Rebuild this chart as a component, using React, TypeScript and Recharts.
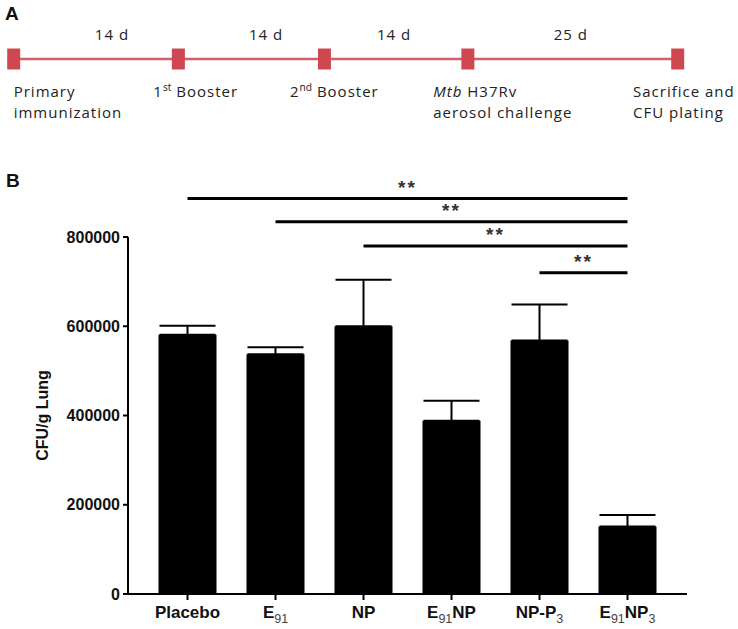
import React from 'react';
import {
  BarChart,
  Bar,
  XAxis,
  YAxis,
  ErrorBar,
  ReferenceLine,
  LineChart,
  Line,
  ReferenceDot,
} from 'recharts';

// ---------- Panel B data ----------
const groups = ['Placebo', 'E91', 'NP', 'E91NP', 'NP-P3', 'E91NP3'];
const cfuMean = [581000, 537000, 600000, 388000, 568000, 151000];
const cfuSem = [20000, 16000, 104000, 45000, 81000, 26000];
const yTicks = [0, 200000, 400000, 600000, 800000];

// significance brackets: from group -> to group, at level, with mark
const sigFrom = ['Placebo', 'E91', 'NP', 'NP-P3'];
const sigTo = ['E91NP3', 'E91NP3', 'E91NP3', 'E91NP3'];
const sigLevel = [886000, 834000, 780000, 720000];
const sigMark = ['**', '**', '**', '**'];

// ---------- Panel A data (schematic timeline, 0–100 scale) ----------
const eventLines = [
  ['Primary', 'immunization'],
  ['1^st Booster'],
  ['2^nd Booster'],
  ['_Mtb_ H37Rv', 'aerosol challenge'],
  ['Sacrifice and', 'CFU plating'],
];
const eventPos = [0, 24.8, 46.8, 68.4, 100];
const intervalLabels = ['14 d', '14 d', '14 d', '25 d'];
const intervalPos = [14.8, 38.0, 57.3, 83.9];

// ---------- layout / style ----------
const EVENT_LABEL_DX = [0, -25, -34.5, -34.7, -44.7];
const SANS_A = '"Open Sans", "Liberation Sans", sans-serif';
const SANS_B = 'Arial, "Liberation Sans", sans-serif';
const RED_LINE = '#d65d66';
const RED_MARK = '#cf4751';

const barData = groups.map((g, i) => ({
  group: g,
  mean: cfuMean[i],
  err: [0, cfuSem[i]],
}));

const timelineData = eventPos.map((p, i) => ({ pos: p, v: 0.5, idx: i }));

// render a line of text with ^sup and _italic_ markup
function renderRich(line: string, baseSize: number) {
  const out: React.ReactNode[] = [];
  const re = /(\^[a-z]+)|(_[^_]+_)/g;
  let last = 0;
  let m: RegExpExecArray | null;
  let k = 0;
  let pendingDown = false;
  const pushPlain = (t: string) => {
    if (!t) return;
    if (pendingDown) {
      out.push(
        <tspan key={k++} dy={6}>
          {t}
        </tspan>
      );
      pendingDown = false;
    } else {
      out.push(<tspan key={k++}>{t}</tspan>);
    }
  };
  while ((m = re.exec(line)) !== null) {
    pushPlain(line.slice(last, m.index));
    if (m[1]) {
      out.push(
        <tspan key={k++} fontSize={baseSize * 0.68} dy={-6} letterSpacing={0}>
          {m[1].slice(1)}
        </tspan>
      );
      pendingDown = true;
    } else if (m[2]) {
      out.push(
        <tspan key={k++} fontStyle="italic">
          {m[2].slice(1, -1)}
        </tspan>
      );
    }
    last = m.index + m[0].length;
  }
  pushPlain(line.slice(last));
  return out;
}

const EventDot = (props: any) => {
  const { cx, cy, payload } = props;
  const i = payload.idx;
  const lines = eventLines[i];
  return (
    <g key={`ev-${i}`}>
      <rect x={cx - 6.5} y={cy - 10.5} width={13} height={21} fill={RED_MARK} />
      {lines.map((ln, j) => (
        <text
          key={j}
          x={cx + EVENT_LABEL_DX[i]}
          y={cy + 38 + j * 21}
          fontFamily={SANS_A}
          fontSize={15}
          letterSpacing={1}
          fill="#222"
        >
          {renderRich(ln, 15)}
        </text>
      ))}
    </g>
  );
};

const GroupTick = (props: any) => {
  const { x, y, payload } = props;
  const s: string = payload.value;
  const parts = s.split(/(\d+)/).filter((p) => p.length > 0);
  const nodes: React.ReactNode[] = [];
  let shifted = false;
  parts.forEach((p, k) => {
    if (/^\d+$/.test(p)) {
      nodes.push(
        <tspan key={k} fontSize={12.5} fontWeight={400} fill="#444" dy={5}>
          {p}
        </tspan>
      );
      shifted = true;
    } else if (shifted) {
      nodes.push(
        <tspan key={k} dy={-5}>
          {p}
        </tspan>
      );
      shifted = false;
    } else {
      nodes.push(<tspan key={k}>{p}</tspan>);
    }
  });
  return (
    <text
      x={x}
      y={y + 15.5}
      textAnchor="middle"
      fontFamily={SANS_B}
      fontSize={17}
      fontWeight={700}
      fill="#111"
    >
      {nodes}
    </text>
  );
};

export default function App() {
  return (
    <div
      style={{
        position: 'absolute',
        left: 0,
        top: 0,
        width: 738,
        height: 629,
        background: '#fff',
        overflow: 'hidden',
      }}
    >
      <svg width={40} height={30} style={{ position: 'absolute', left: 0, top: 0 }}>
        <text x={5} y={20} fontFamily={SANS_B} fontWeight={700} fontSize={19} fill="#111">
          A
        </text>
      </svg>
      <svg width={40} height={30} style={{ position: 'absolute', left: 0, top: 160 }}>
        <text x={6} y={26.7} fontFamily={SANS_B} fontWeight={700} fontSize={19} fill="#111">
          B
        </text>
      </svg>

      {/* Panel A: timeline */}
      <div style={{ position: 'absolute', left: 0, top: 0 }}>
        <LineChart
          width={738}
          height={130}
          data={timelineData}
          margin={{ top: 40, right: 60.3, bottom: 52, left: 13.7 }}
        >
          <XAxis dataKey="pos" type="number" domain={[0, 100]} hide />
          <YAxis type="number" domain={[0, 1]} hide />
          <Line
            dataKey="v"
            stroke={RED_LINE}
            strokeWidth={2.5}
            dot={<EventDot />}
            activeDot={false}
            isAnimationActive={false}
          />
          {intervalLabels.map((lab, i) => (
            <ReferenceDot
              key={i}
              x={intervalPos[i]}
              y={0.5}
              r={0}
              fill="none"
              stroke="none"
              label={{
                value: lab,
                position: 'top',
                offset: 19,
                fill: '#222',
                fontSize: 15,
                fontFamily: SANS_A,
                letterSpacing: 1,
              }}
            />
          ))}
        </LineChart>
      </div>

      {/* Panel B: bar chart */}
      <div style={{ position: 'absolute', left: 0, top: 160 }}>
        <BarChart
          width={738}
          height={469}
          data={barData}
          margin={{ top: 77, right: 51, bottom: 0, left: 0 }}
        >
          <XAxis
            dataKey="group"
            interval={0}
            height={35}
            padding={{ left: 15.5, right: 15.5 }}
            tickSize={6}
            tick={<GroupTick />}
            axisLine={{ stroke: '#000', strokeWidth: 2 }}
            tickLine={{ stroke: '#000', strokeWidth: 2 }}
          />
          <YAxis
            width={128}
            domain={[0, 800000]}
            ticks={yTicks}
            interval={0}
            tickSize={5}
            tickMargin={3}
            axisLine={{ stroke: '#000', strokeWidth: 2 }}
            tickLine={{ stroke: '#000', strokeWidth: 2 }}
            tick={{ fill: '#111', fontSize: 16, fontWeight: 700, fontFamily: SANS_B }}
            label={{
              value: 'CFU/g Lung',
              angle: -90,
              position: 'center',
              dx: -21.5,
              fill: '#111',
              fontSize: 16,
              fontWeight: 700,
              fontFamily: SANS_B,
            }}
          />
          <Bar dataKey="mean" fill="#000" barSize={58} isAnimationActive={false}>
            <ErrorBar dataKey="err" width={28} stroke="#000" strokeWidth={2} direction="y" />
          </Bar>
          {sigFrom.map((from, i) => (
            <ReferenceLine
              key={i}
              ifOverflow="visible"
              stroke="#000"
              strokeWidth={3}
              segment={[
                { x: from, y: sigLevel[i] },
                { x: sigTo[i], y: sigLevel[i] },
              ]}
              label={{
                value: sigMark[i],
                position: 'top',
                offset: 5,
                fill: '#333',
                fontSize: 19,
                fontWeight: 700,
                fontFamily: SANS_B,
                letterSpacing: 2,
              }}
            />
          ))}
        </BarChart>
      </div>
    </div>
  );
}
